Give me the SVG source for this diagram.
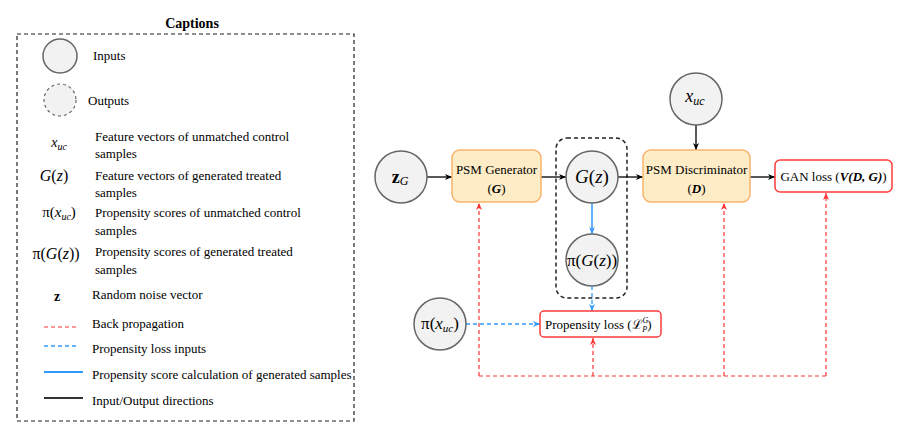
<svg xmlns="http://www.w3.org/2000/svg" width="924" height="444" viewBox="0 0 924 444" font-family="'Liberation Serif', 'Times New Roman', Tinos, 'DejaVu Serif', 'Noto Serif', serif">
<style>
text{font-family:'Liberation Serif','Times New Roman',Tinos,'DejaVu Serif','Noto Serif',serif;fill:#000}
.t{font-size:13px}
.n{font-size:13px}
.m{font-style:italic}
.circ{fill:#f2f2f2;stroke:#666;stroke-width:1.5}
.box{fill:#feecc6;stroke:#f8b26c;stroke-width:1.5}
.rbox{fill:#fff;stroke:#ff3b3b;stroke-width:1.5}
.blk{stroke:#000;stroke-width:1.3;fill:none}
.red{stroke:#ff3333;stroke-width:1.2;stroke-dasharray:4 3;fill:none}
.bluD{stroke:#3399ff;stroke-width:1.3;stroke-dasharray:4 3;fill:none}
.blu{stroke:#3399ff;stroke-width:1.5;fill:none}
</style>
<defs>
<marker id="ak" markerWidth="8" markerHeight="8" refX="7" refY="4" orient="auto" markerUnits="userSpaceOnUse"><path d="M0,1 L7,4 L0,7 L2,4 Z" fill="#000"/></marker>
<marker id="ar" markerWidth="8" markerHeight="8" refX="7" refY="4" orient="auto" markerUnits="userSpaceOnUse"><path d="M0,1 L7,4 L0,7 L2,4 Z" fill="#ff3333"/></marker>
<marker id="ab" markerWidth="8" markerHeight="8" refX="7" refY="4" orient="auto" markerUnits="userSpaceOnUse"><path d="M0,1 L7,4 L0,7 L2,4 Z" fill="#3399ff"/></marker>
</defs>
<rect width="924" height="444" fill="#fff"/>

<g id="legend">
<rect x="17" y="34" width="337" height="387" fill="none" stroke="#222" stroke-width="1.2" stroke-dasharray="4 3"/>
<text x="192" y="28" text-anchor="middle" font-weight="bold" font-size="14">Captions</text>
<circle cx="60" cy="56" r="17" class="circ"/>
<text class="t" x="93" y="60">Inputs</text>
<circle cx="60" cy="100" r="16" fill="#f2f2f2" stroke="#666" stroke-width="1.2" stroke-dasharray="3 3"/>
<text class="t" x="88" y="105">Outputs</text>
<text x="59" y="147" text-anchor="middle" font-size="14" class="m">x<tspan font-size="10" dy="3">uc</tspan></text>
<text class="t" x="95" y="141">Feature vectors of unmatched control</text>
<text class="t" x="95" y="158">samples</text>
<text x="54" y="181" text-anchor="middle" font-size="16"><tspan class="m">G</tspan>(<tspan class="m">z</tspan>)</text>
<text class="t" x="95" y="180">Feature vectors of generated treated</text>
<text class="t" x="95" y="197">samples</text>
<text x="59" y="217" text-anchor="middle" font-size="15">π(<tspan class="m">x</tspan><tspan class="m" font-size="10" dy="3">uc</tspan><tspan dy="-3">)</tspan></text>
<text class="t" x="95" y="217">Propensity scores of unmatched control</text>
<text class="t" x="95" y="235">samples</text>
<text x="56" y="259" text-anchor="middle" font-size="16">π(<tspan class="m">G</tspan>(<tspan class="m">z</tspan>))</text>
<text class="t" x="95" y="256">Propensity scores of generated treated</text>
<text class="t" x="95" y="274">samples</text>
<text x="57" y="301" text-anchor="middle" font-size="14" font-weight="bold">z</text>
<text class="t" x="92" y="299">Random noise vector</text>
<line x1="44" y1="327" x2="79" y2="327" class="red"/>
<text class="t" x="92" y="328">Back propagation</text>
<line x1="44" y1="346" x2="79" y2="346" class="bluD"/>
<text class="t" x="92" y="353">Propensity loss inputs</text>
<line x1="44" y1="372" x2="83" y2="372" stroke="#3399ff" stroke-width="2"/>
<text class="t" x="92" y="379">Propensity score calculation of generated samples</text>
<line x1="44" y1="398" x2="83" y2="398" stroke="#333" stroke-width="2"/>
<text class="t" x="92" y="405">Input/Output directions</text>
</g>

<g id="group-box">
<rect x="556" y="138" width="71" height="160" rx="11" fill="none" stroke="#222" stroke-width="1.5" stroke-dasharray="4 3"/>
</g>

<g id="connectors">
<line x1="427" y1="177" x2="452" y2="177" class="blk" marker-end="url(#ak)"/>
<line x1="541" y1="177" x2="566" y2="177" class="blk" marker-end="url(#ak)"/>
<line x1="618" y1="177" x2="643" y2="177" class="blk" marker-end="url(#ak)"/>
<line x1="750" y1="177" x2="775" y2="177" class="blk" marker-end="url(#ak)"/>
<line x1="696" y1="125" x2="696" y2="150" class="blk" marker-end="url(#ak)"/>
<line x1="592" y1="203" x2="592" y2="234" class="blu" marker-end="url(#ab)"/>
<line x1="592" y1="286" x2="592" y2="311" class="bluD" marker-end="url(#ab)"/>
<line x1="466" y1="324" x2="540" y2="324" class="bluD" marker-end="url(#ab)"/>
<polyline points="479,376 826,376" class="red"/>
<line x1="479" y1="376" x2="479" y2="203" class="red" marker-end="url(#ar)"/>
<line x1="593" y1="376" x2="593" y2="338" class="red" marker-end="url(#ar)"/>
<line x1="724" y1="376" x2="724" y2="203" class="red" marker-end="url(#ar)"/>
<line x1="826" y1="376" x2="826" y2="193" class="red" marker-end="url(#ar)"/>
</g>

<g id="zG">
<circle cx="401" cy="177" r="26" class="circ"/>
<text x="400" y="183" text-anchor="middle" font-size="18" font-weight="bold">z<tspan font-size="12" font-weight="normal" class="m" dy="2">G</tspan></text>
</g>
<g id="generator">
<rect x="452" y="150" width="89" height="52" rx="8" class="box"/>
<text class="n" x="496.5" y="174" text-anchor="middle">PSM Generator</text>
<text class="n" x="496.5" y="193" text-anchor="middle">(<tspan font-weight="bold" font-style="italic">G</tspan>)</text>
</g>
<g id="Gz">
<circle cx="592" cy="177" r="26" class="circ"/>
<text x="592" y="183" text-anchor="middle" font-size="19"><tspan class="m">G</tspan>(<tspan class="m">z</tspan>)</text>
</g>
<g id="piGz">
<circle cx="592" cy="260" r="26" class="circ"/>
<text x="592" y="266" text-anchor="middle" font-size="17">π(<tspan class="m">G</tspan>(<tspan class="m">z</tspan>))</text>
</g>
<g id="xuc">
<circle cx="696" cy="99" r="26" class="circ"/>
<text x="695" y="102" text-anchor="middle" font-size="18" class="m">x<tspan font-size="12" dy="3">uc</tspan></text>
</g>
<g id="discriminator">
<rect x="643" y="150" width="107" height="52" rx="8" class="box"/>
<text class="n" x="696.5" y="174" text-anchor="middle">PSM Discriminator</text>
<text class="n" x="696.5" y="193" text-anchor="middle">(<tspan font-weight="bold" font-style="italic">D</tspan>)</text>
</g>
<g id="ganloss">
<rect x="775" y="160" width="117" height="32" rx="5" class="rbox"/>
<text class="n" x="833.5" y="181" text-anchor="middle">GAN loss (<tspan font-weight="bold" font-style="italic">V(D, G)</tspan>)</text>
</g>
<g id="pixuc">
<circle cx="440" cy="324" r="26" class="circ"/>
<text x="440" y="329" text-anchor="middle" font-size="17">π(<tspan class="m">x</tspan><tspan class="m" font-size="11" dy="3">uc</tspan><tspan dy="-3">)</tspan></text>
</g>
<g id="proploss">
<rect x="540" y="311" width="121" height="26" rx="4" class="rbox"/>
<text class="n" x="545" y="329">Propensity loss (<tspan font-style="italic" font-size="13">ℒ</tspan><tspan class="m" font-size="8" dy="-6">G</tspan><tspan class="m" font-size="8" dx="-6" dy="9">P</tspan><tspan dy="-3">)</tspan></text>
</g>
</svg>
